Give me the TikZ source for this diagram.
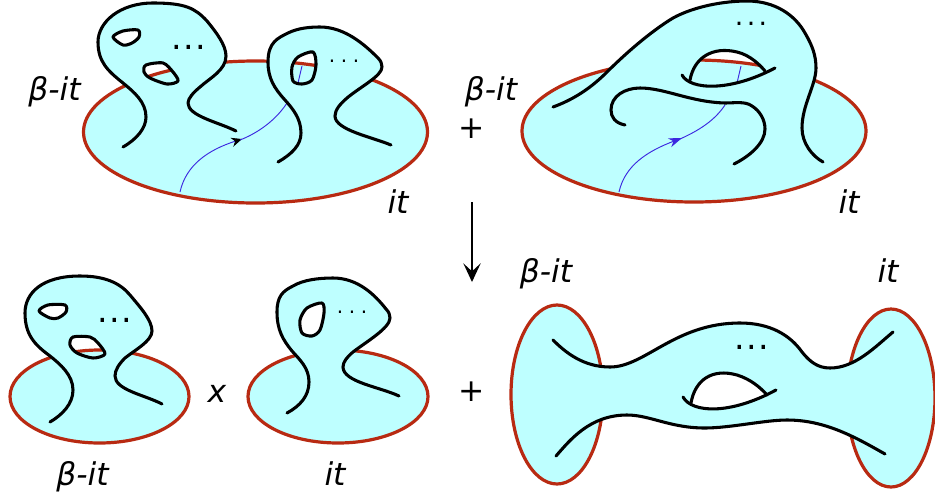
\documentclass[tikz,border=0pt]{standalone}
\usepackage{fontspec}
\setmainfont{DejaVu Sans}
\usetikzlibrary{arrows.meta}

\definecolor{sheet}{HTML}{BEFFFF}
\definecolor{rim}{HTML}{B82A12}
\definecolor{path}{HTML}{3C28E0}

\tikzset{
    disc/.style={draw=rim, line width=2.4pt, fill=sheet},
    strand/.style={draw=black, line width=2.3pt, line cap=round, line join=round},
    contour/.style={draw=path, line width=0.7pt},
    lab/.style={anchor=base, inner sep=0pt, font=\fontsize{23.5pt}{26pt}\selectfont\itshape},
    plus/.style={inner sep=0pt, font=\fontsize{23.5pt}{26pt}\selectfont},
    bigdots/.style={anchor=base, inner sep=0pt, font=\fontsize{25pt}{28pt}\selectfont},
    middots/.style={anchor=base, inner sep=0pt, font=\fontsize{20pt}{24pt}\selectfont},
    smalldots/.style={anchor=base, inner sep=0pt, font=\fontsize{15pt}{18pt}\selectfont}
}

% window: white, then what lies behind it
\newcommand{\window}[2]{
    \fill[white] #1;
    \begin{scope}
        \clip #1;
        #2
    \end{scope}
}
\newcommand{\hole}[2]{
    \window{#1}{#2}
    \draw[strand] #1;
}
\newcommand{\sparsedots}{.\kern4.2pt.\kern4.2pt.}
\newcommand{\meddots}{.\kern2.6pt.\kern2.6pt.}
\newcommand{\densedots}{.\kern1.2pt.\kern1.2pt.}

\begin{document}
\begin{tikzpicture}[x=0.75pt, y=-0.75pt]
    \useasboundingbox (0,0) rectangle (935,497);

    % Top left
    \draw[disc] (255.5,132) ellipse (172 and 71);
    \draw[contour, -{Stealth[length=8pt, width=7pt, black]}] (180,192) .. controls (186,165) and (208,150) .. (242,139);
    \draw[contour] (240,140) .. controls (258,133) and (276,120) .. (287,103);
    \draw[strand, fill=sheet] (123,147) .. controls (137,139) and (146,128) .. (146,117) .. controls (146,102) and (134,92) .. (123,83) .. controls (108,71) and (98,62) .. (98,42) .. controls (98,22) and (120,3) .. (153,3) .. controls (185,3) and (195,8) .. (207,21) .. controls (216,32) and (226,45) .. (226,56) .. controls (226,70) and (210,78) .. (200,87) .. controls (194,92) and (188,98) .. (188,103) .. controls (188,116) and (218,122) .. (236,131);
    \hole{plot[smooth cycle] coordinates {(113,37) (123,31) (138,30) (139,37) (132,43) (123,45)}}{}
    \hole{plot[smooth cycle] coordinates {(146,65) (163,63) (173,72) (178,81) (167,84) (150,78) (144,72)}}{\draw[disc] (255.5,132) ellipse (172 and 71);}
    \draw[strand, fill=sheet] (278,162) .. controls (292,154) and (301,145) .. (301,133) .. controls (301,118) and (292,108) .. (285,100) .. controls (274,88) and (268,78) .. (268,62) .. controls (268,42) and (278,38) .. (288,33) .. controls (298,28) and (310,27) .. (320,27) .. controls (345,27) and (365,45) .. (378,58) .. controls (381,61) and (382,64) .. (382,67) .. controls (382,76) and (360,87) .. (347,98) .. controls (340,104) and (335,110) .. (335,116) .. controls (335,130) and (372,137) .. (391,145);
    \hole{plot[smooth cycle] coordinates {(313,52) (316,65) (312,80) (302,84) (293,81) (292,67) (298,57)}}{\draw[disc] (255.5,132) ellipse (172 and 71); \draw[contour] (302,66) -- (298,83);}
    \node[bigdots] (dotsa) at (189,49) {\densedots};
    \node[smalldots] (dotsb) at (344,62) {\sparsedots};

    % Top right
    \draw[disc] (694,131) ellipse (172 and 71);
    \draw[strand, fill=sheet] (553,107) .. controls (575,99) and (592,87) .. (607,72) .. controls (625,54) and (650,32) .. (673,18) .. controls (695,6) and (725,1) .. (747,1) .. controls (775,1) and (795,15) .. (805,33) .. controls (812,45) and (816,55) .. (816,68) .. controls (816,85) and (802,105) .. (802,128) .. controls (802,143) and (812,156) .. (823,162);
    \draw[contour, -{Stealth[length=10pt, width=7pt]}] (619,192) .. controls (625,165) and (648,151) .. (682,138);
    \draw[contour] (680,139) .. controls (700,130) and (715,120) .. (725,105);
    \window{(682,75) .. controls (690,90) and (730,92) .. (775,68) -- (765,71) .. controls (760,65) and (750,55) .. (737,52) .. controls (712,46) and (694,58) .. (690,80) -- cycle}{\draw[disc] (694,131) ellipse (172 and 71); \draw[contour] (741,66) -- (737,83);}
    \draw[strand] (690,80) .. controls (694,58) and (712,46) .. (737,52) .. controls (750,55) and (760,65) .. (765,71);
    \draw[strand] (682,75) .. controls (690,90) and (730,92) .. (775,68);
    \draw[strand] (625,125) .. controls (615,123) and (611,117) .. (611,110) .. controls (611,96) and (625,88) .. (640,88) .. controls (665,88) and (690,102) .. (725,103) .. controls (735,103) and (745,101) .. (752,106) .. controls (760,111) and (765,120) .. (765,129) .. controls (765,143) and (750,156) .. (734,164);
    \node[middots] (dotsc) at (751,25) {\meddots};

    % Bottom left
    \draw[disc] (99.5,396.5) ellipse (89.5 and 46.5);
    \draw[strand, fill=sheet] (50,422) .. controls (62,415) and (73,404) .. (73,390) .. controls (73,375) and (60,364) .. (50,356) .. controls (35,345) and (25,335) .. (25,313) .. controls (25,293) and (42,276) .. (80,276) .. controls (105,276) and (120,283) .. (130,295) .. controls (140,307) and (152,320) .. (152,331) .. controls (152,341) and (135,350) .. (125,358) .. controls (119,364) and (115,370) .. (115,376) .. controls (115,390) and (145,395) .. (162,404);
    \hole{plot[smooth cycle] coordinates {(39,311) (48,305) (65,305) (66,312) (58,318) (50,318)}}{}
    \hole{plot[smooth cycle] coordinates {(73,337) (90,337) (98,343) (105,354) (93,358) (77,353) (70,345)}}{\draw[disc] (99.5,396.5) ellipse (89.5 and 46.5);}
    \node[bigdots] (dotsd) at (115,322) {\densedots};

    % Bottom middle
    \draw[disc] (338,396.5) ellipse (90 and 46.5);
    \draw[strand, fill=sheet] (287,413) .. controls (300,406) and (309,396) .. (309,382) .. controls (309,368) and (300,360) .. (292,351) .. controls (283,340) and (277,330) .. (277,312) .. controls (277,296) and (283,291) .. (293,286) .. controls (303,280) and (318,278) .. (333,278) .. controls (358,278) and (375,295) .. (386,309) .. controls (389,312) and (390,315) .. (390,318) .. controls (390,328) and (366,342) .. (353,352) .. controls (347,357) and (343,362) .. (343,367) .. controls (343,382) and (380,387) .. (399,396);
    \hole{plot[smooth cycle] coordinates {(322,303) (324,313) (320,330) (312,336) (302,333) (300,320) (307,308)}}{}
    \node[smalldots] (dotse) at (352,313) {\sparsedots};

    % Bottom right
    \draw[disc] (557,394.5) ellipse (46 and 89.5);
    \draw[disc] (891,398) ellipse (44 and 89);
    \fill[sheet] (553,340) .. controls (565,352) and (583,367) .. (610,367) .. controls (645,367) and (675,323) .. (740,323) .. controls (770,323) and (790,335) .. (802,352) .. controls (810,362) and (818,368) .. (830,368) .. controls (855,368) and (875,347) .. (893,332) -- (885,454) .. controls (855,437) and (825,420) .. (787,420) .. controls (765,420) and (730,428) .. (705,428) .. controls (670,428) and (650,415) .. (627,415) .. controls (590,415) and (570,440) .. (556,456) -- cycle;
    \draw[strand] (553,340) .. controls (565,352) and (583,367) .. (610,367) .. controls (645,367) and (675,323) .. (740,323) .. controls (770,323) and (790,335) .. (802,352) .. controls (810,362) and (818,368) .. (830,368) .. controls (855,368) and (875,347) .. (893,332);
    \draw[strand] (885,454) .. controls (855,437) and (825,420) .. (787,420) .. controls (765,420) and (730,428) .. (705,428) .. controls (670,428) and (650,415) .. (627,415) .. controls (590,415) and (570,440) .. (556,456);
    \window{(683,397) .. controls (692,413) and (730,415) .. (776,390) -- (767,395) .. controls (760,387) and (750,379) .. (737,375) .. controls (712,368) and (695,380) .. (691,403) -- cycle}{}
    \draw[strand] (691,403) .. controls (695,380) and (712,368) .. (737,375) .. controls (750,379) and (760,387) .. (767,395);
    \draw[strand] (683,397) .. controls (692,413) and (730,415) .. (776,390);
    \node[bigdots] (dotsf) at (752,349) {\densedots};

    % Arrow and signs
    \coordinate (arrowtop) at (472,202);
    \coordinate (arrowtip) at (472,282);
    \draw[line width=1.3pt, -{Stealth[length=14pt, width=13pt, inset=6pt]}] (arrowtop) -- (arrowtip);
    \node[plus] (plustop) at (472,129) {+};
    \node[plus] (plusbottom) at (472,392) {+};
    \node[lab] (times) at (217,402) {x};

    % Labels
    \node[lab] (betaa) at (54.5,100) {β-it};
    \node[lab] (ita) at (398,213) {it};
    \node[lab] (betab) at (491,100) {β-it};
    \node[lab] (itb) at (849,213) {it};
    \node[lab] (betac) at (82.5,485) {β-it};
    \node[lab] (itc) at (335,485) {it};
    \node[lab] (betad) at (546,282) {β-it};
    \node[lab] (itd) at (888,282) {it};
\end{tikzpicture}
\end{document}
